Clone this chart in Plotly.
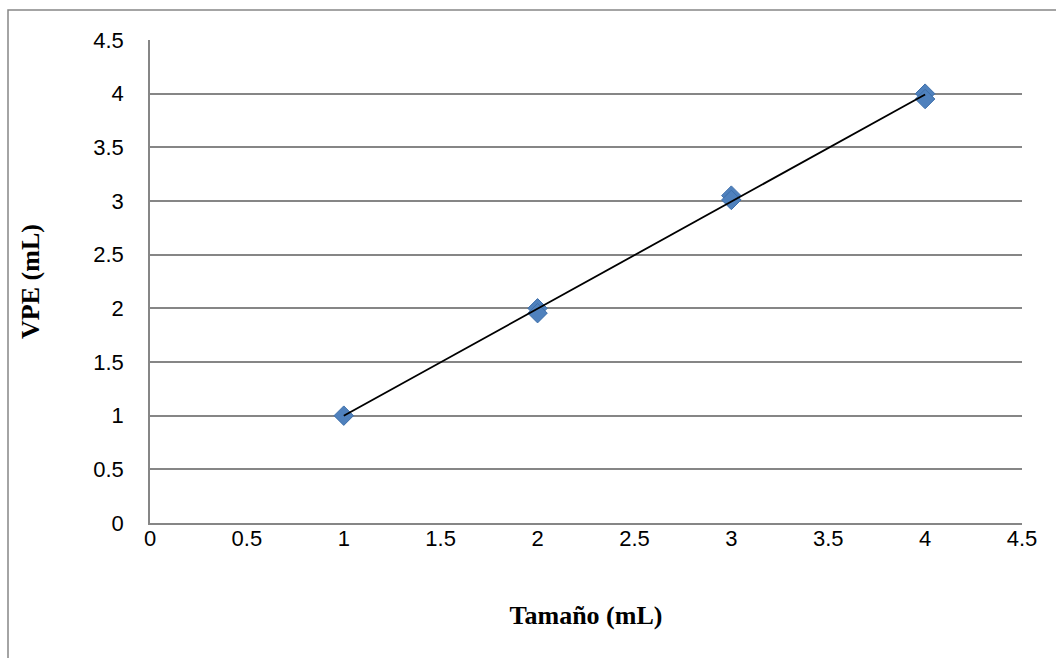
import numpy as np
import plotly.graph_objects as go

# Data
tamano = [1, 2, 2, 3, 3, 4, 4]
vpe = [1.0, 2.0, 1.955, 3.05, 3.01, 4.0, 3.95]

x_ticks = [0, 0.5, 1, 1.5, 2, 2.5, 3, 3.5, 4, 4.5]
x_ticklabels = ["0", "0.5", "1", "1.5", "2", "2.5", "3", "3.5", "4", "4.5"]
y_ticks = [0, 0.5, 1, 1.5, 2, 2.5, 3, 3.5, 4, 4.5]
y_ticklabels = ["0", "0.5", "1", "1.5", "2", "2.5", "3", "3.5", "4", "4.5"]

# Linear trendline fitted to the data
slope, intercept = np.polyfit(tamano, vpe, 1)
trend_x = [min(tamano), max(tamano)]
trend_y = [slope * v + intercept for v in trend_x]

fig = go.Figure()
fig.add_trace(go.Scatter(
    x=tamano, y=vpe, mode="markers",
    marker=dict(symbol="diamond", size=15, color="#4F81BD",
                line=dict(color="#3E6FAA", width=1)),
    showlegend=False, hoverinfo="x+y",
))
fig.add_trace(go.Scatter(
    x=trend_x, y=trend_y, mode="lines",
    line=dict(color="black", width=1.8),
    showlegend=False, hoverinfo="skip",
))

tick_font = dict(family="Liberation Sans, Arial, sans-serif", size=22, color="black")
title_font = dict(family="Liberation Serif, Times New Roman, serif", size=26, color="black")

fig.update_layout(
    width=1056, height=658,
    margin=dict(l=150, r=34, t=40, b=135),
    paper_bgcolor="white", plot_bgcolor="white",
    xaxis=dict(
        range=[0, 4.5], tickvals=x_ticks, ticktext=x_ticklabels,
        showgrid=False, zeroline=False,
        showline=True, linecolor="#868686", linewidth=1.5,
        ticks="", ticklabelstandoff=-5,
        tickfont=tick_font,
        title=dict(text="<b>Tamaño (mL)</b>", font=title_font, standoff=56),
    ),
    yaxis=dict(
        range=[0, 4.5], tickvals=y_ticks, ticktext=y_ticklabels,
        showgrid=True, gridcolor="#868686", gridwidth=1.5,
        zeroline=False,
        showline=True, linecolor="#868686", linewidth=1.5,
        ticks="outside", ticklen=20, tickcolor="rgba(0,0,0,0)",
        tickfont=tick_font,
        title=dict(text="<b>VPE (mL)</b>", font=title_font, standoff=46),
    ),
    shapes=[dict(
        type="rect", xref="paper", yref="paper",
        x0=(8 - 150) / 872, x1=1.2, y0=-0.4, y1=(523 - 10) / 483,
        line=dict(color="#868686", width=1.5), fillcolor="rgba(0,0,0,0)",
        layer="below",
    )],
)

fig.write_html("out.html")
